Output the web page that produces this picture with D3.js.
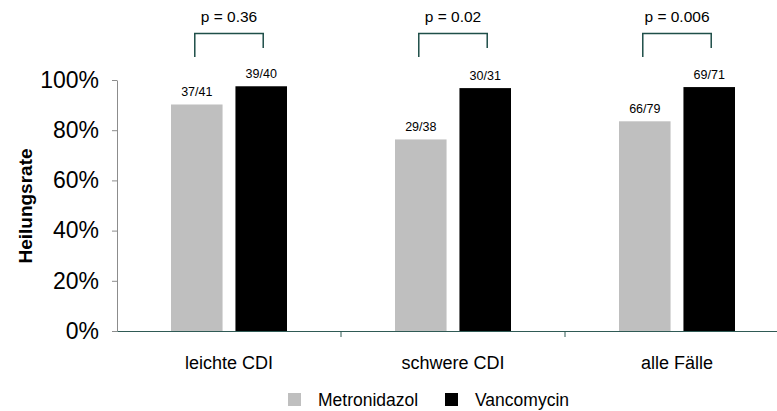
<!DOCTYPE html>
<html><head><meta charset="utf-8">
<script src="https://cdn.jsdelivr.net/npm/d3@7"></script>
<style>body{margin:0;background:#fff}svg{display:block;font-family:"Liberation Sans",Arial,sans-serif}</style>
</head><body><svg id="c" width="777" height="411"></svg>
<script>
const categories = ["leichte CDI", "schwere CDI", "alle Fälle"];
const seriesNames = ["Metronidazol", "Vancomycin"];
const metroValues = [37/41, 29/38, 66/79];
const vancoValues = [39/40, 30/31, 69/71];
const metroLabels = ["37/41", "29/38", "66/79"];
const vancoLabels = ["39/40", "30/31", "69/71"];
const pValues = ["p = 0.36", "p = 0.02", "p = 0.006"];
const yTicks = [0, 0.2, 0.4, 0.6, 0.8, 1.0];
const colors = ["#bfbfbf", "#000000"];

const FONT = '"Liberation Sans",Arial,sans-serif';
const svg = d3.select("#c");
const mLeft = 117, mTop = 80, mBottom = 331, mRight = 789;
const x0 = d3.scaleBand().domain(categories).range([mLeft, mRight]).paddingInner(0).paddingOuter(0);
const x1 = d3.scaleBand().domain(seriesNames).range([x0.bandwidth()/2 - 58, x0.bandwidth()/2 + 58]).paddingInner(0.2);
const y = d3.scaleLinear().domain([0, 1]).range([mBottom, mTop]);

// y axis
const ya = svg.append("g").attr("transform", `translate(${mLeft},0)`)
  .call(d3.axisLeft(y).tickValues(yTicks).tickFormat(d3.format(".0%")).tickSize(5).tickSizeOuter(0));
ya.attr("font-family", FONT);
ya.select(".domain").attr("stroke", "#8c8c8c");
ya.selectAll(".tick line").attr("stroke", "#8c8c8c");
ya.selectAll(".tick text").attr("font-size", 23).attr("fill", "#000").attr("x", -18);

// x axis
const xa = svg.append("g").attr("transform", `translate(0,${mBottom})`)
  .call(d3.axisBottom(x0).tickSize(0).tickSizeOuter(0));
xa.attr("font-family", FONT);
xa.select(".domain").attr("stroke", "#2f5a55");
xa.selectAll(".tick text").attr("font-size", 18).attr("fill", "#000").attr("dy", 0).attr("y", 38);
// category boundary ticks
svg.append("g").selectAll("line").data(categories.slice(1)).join("line")
  .attr("x1", d => x0(d)).attr("x2", d => x0(d))
  .attr("y1", mBottom).attr("y2", mBottom + 6).attr("stroke", "#2f5a55");

const data = categories.map((c, i) => ({c, vals: [
  {s: seriesNames[0], v: metroValues[i], l: metroLabels[i]},
  {s: seriesNames[1], v: vancoValues[i], l: vancoLabels[i]}], p: pValues[i]}));

const groups = svg.append("g").selectAll("g").data(data).join("g")
  .attr("transform", d => `translate(${x0(d.c)},0)`);
groups.selectAll("rect").data(d => d.vals).join("rect")
  .attr("x", d => x1(d.s)).attr("width", x1.bandwidth())
  .attr("y", d => y(d.v)).attr("height", d => y(0) - y(d.v))
  .attr("fill", (d, i) => colors[i]);
groups.selectAll("text.bl").data(d => d.vals).join("text").attr("class", "bl")
  .attr("x", d => x1(d.s) + x1.bandwidth()/2).attr("y", d => y(d.v) - 8)
  .attr("text-anchor", "middle").attr("font-size", 12.5).text(d => d.l);

// brackets
groups.each(function(d) {
  const g = d3.select(this);
  const xl = x1(seriesNames[0]) + x1.bandwidth()/2 - 2;
  const xr = x1(seriesNames[1]) + x1.bandwidth()/2 + 2;
  g.append("path").attr("d", `M${xl},57V33.5H${xr}V48`).attr("fill", "none")
    .attr("stroke", "#1f4f49").attr("stroke-width", 1.5);
  g.append("text").attr("x", (xl + xr)/2).attr("y", 22).attr("text-anchor", "middle")
    .attr("font-size", 15.5).text(d.p);
});

// y label
svg.append("text").attr("transform", "translate(32,206) rotate(-90)")
  .attr("text-anchor", "middle").attr("font-size", 19).attr("font-weight", "bold").text("Heilungsrate");

// legend
const leg = svg.append("g").selectAll("g").data(seriesNames).join("g")
  .attr("transform", (d, i) => `translate(${[288, 445][i]},393)`);
leg.append("rect").attr("width", 13).attr("height", 13).attr("fill", (d, i) => colors[i]);
leg.append("text").attr("x", 30).attr("y", 13).attr("font-size", 17.5).text(d => d);
</script></body></html>
